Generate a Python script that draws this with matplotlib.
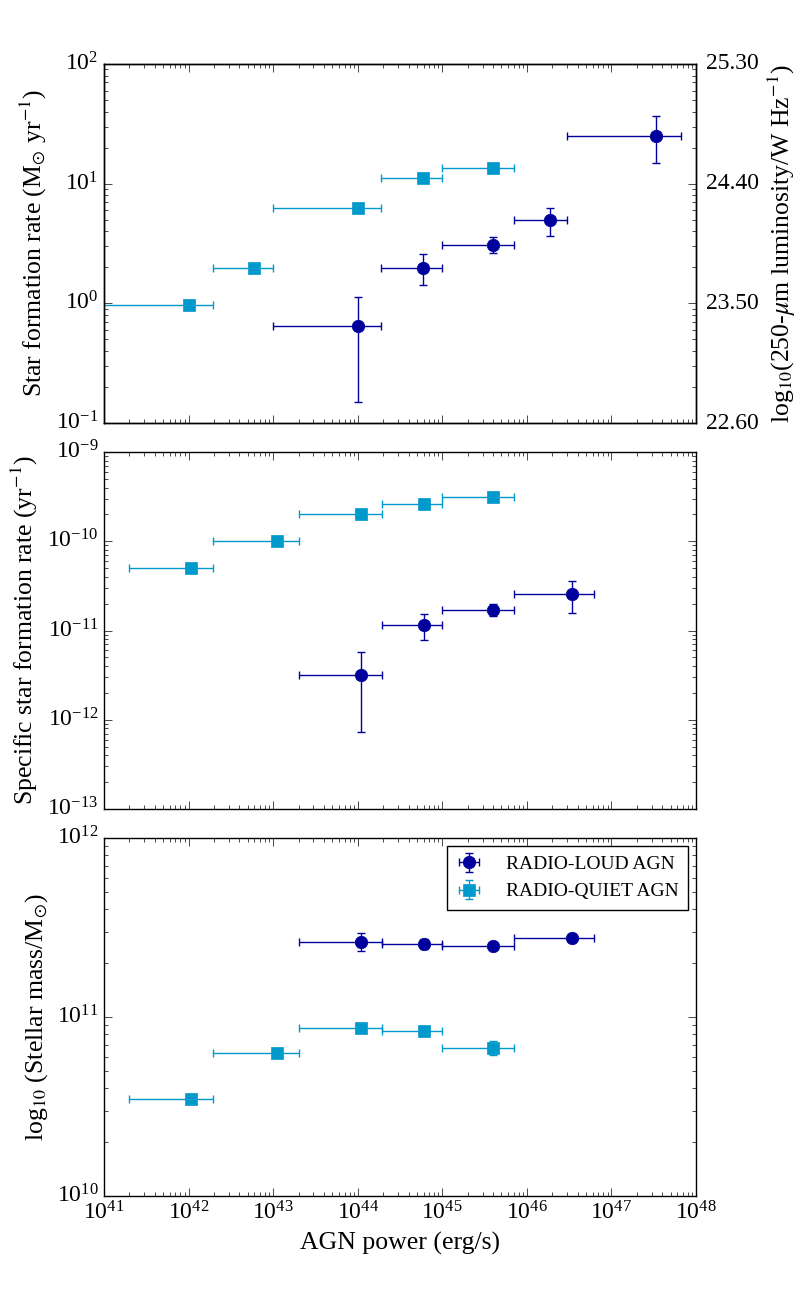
import numpy as np
import matplotlib
matplotlib.use("Agg")
import matplotlib.pyplot as plt
from matplotlib.ticker import FixedLocator, NullLocator, LogLocator

plt.style.use("classic")
plt.rcParams["font.family"] = ["Liberation Serif", "DejaVu Serif"]
plt.rcParams["mathtext.fontset"] = "stix"
plt.rcParams["figure.facecolor"] = "white"
plt.rcParams["savefig.facecolor"] = "white"

# ---------------- data ----------------
# Panel 1: star formation rate
sfr_rl_x = [1.0e44, 5.9e44, 4.0e45, 1.86e46, 3.4e47]
sfr_rl_xlo = [1.0e43, 1.86e44, 1.0e45, 7.1e45, 2.95e46]
sfr_rl_xhi = [1.86e44, 1.0e45, 7.1e45, 2.95e46, 6.6e47]
sfr_rl_y = [0.65, 1.96, 3.07, 4.98, 25.2]
sfr_rl_ylo = [0.15, 1.42, 2.65, 3.65, 15.0]
sfr_rl_yhi = [1.14, 2.58, 3.58, 6.28, 36.4]

sfr_rq_x = [1.02e42, 5.9e42, 1.0e44, 5.9e44, 4.0e45]
sfr_rq_xlo = [6.3e40, 1.95e42, 1.0e43, 1.86e44, 1.0e45]
sfr_rq_xhi = [1.95e42, 1.0e43, 1.86e44, 1.0e45, 7.1e45]
sfr_rq_y = [0.96, 1.96, 6.28, 11.2, 13.6]

# Panel 2: specific star formation rate
ssfr_rl_x = [1.1e44, 6.0e44, 4.0e45, 3.4e46]
ssfr_rl_xlo = [2.0e43, 1.95e44, 1.0e45, 7.1e45]
ssfr_rl_xhi = [1.95e44, 1.0e45, 7.1e45, 6.2e46]
ssfr_rl_y = [3.18e-12, 1.16e-11, 1.71e-11, 2.58e-11]
ssfr_rl_ylo = [7.3e-13, 7.9e-12, 1.44e-11, 1.59e-11]
ssfr_rl_yhi = [5.8e-12, 1.54e-11, 1.96e-11, 3.57e-11]

ssfr_rq_x = [1.07e42, 1.12e43, 1.1e44, 6.0e44, 4.0e45]
ssfr_rq_xlo = [1.95e41, 1.95e42, 2.0e43, 1.95e44, 1.0e45]
ssfr_rq_xhi = [1.95e42, 2.0e43, 1.95e44, 1.0e45, 7.1e45]
ssfr_rq_y = [5.05e-11, 1.0e-10, 2.03e-10, 2.64e-10, 3.15e-10]

# Panel 3: stellar mass
mass_rl_y = [2.62e11, 2.56e11, 2.49e11, 2.77e11]
mass_rl_ylo = [2.35e11, 2.40e11, 2.42e11, 2.70e11]
mass_rl_yhi = [2.93e11, 2.72e11, 2.56e11, 2.84e11]
mass_rq_y = [3.5e10, 6.33e10, 8.69e10, 8.32e10, 6.72e10]
mass_rq_ylo = [3.40e10, 6.15e10, 8.45e10, 8.10e10, 6.15e10]
mass_rq_yhi = [3.60e10, 6.50e10, 8.95e10, 8.55e10, 7.30e10]

lum_ticks = [22.60, 23.50, 24.40, 25.30]

C_RL = "#00009c"
C_RQ = "#0099cc"
LABEL_FS = 18.5


def xerr(x, lo, hi):
    x = np.asarray(x)
    return [x - np.asarray(lo), np.asarray(hi) - x]


def yerr(y, lo, hi):
    y = np.asarray(y)
    return [y - np.asarray(lo), np.asarray(hi) - y]


fig = plt.figure(figsize=(8, 13), dpi=100)
L, W = 0.13, 0.74
ax1 = fig.add_axes([L, 0.6746, W, 0.2762])
ax2 = fig.add_axes([L, 0.3777, W, 0.2746], sharex=ax1)
ax3 = fig.add_axes([L, 0.0800, W, 0.2754], sharex=ax1)

kw_rl = dict(fmt="o", color=C_RL, mec=C_RL, ms=9, capsize=3, elinewidth=1.0, capthick=1.0)
kw_rq = dict(fmt="s", color=C_RQ, mec=C_RQ, ms=9, capsize=3, elinewidth=1.0, capthick=1.0)

# panel 1
ax1.errorbar(sfr_rl_x, sfr_rl_y, xerr=xerr(sfr_rl_x, sfr_rl_xlo, sfr_rl_xhi),
             yerr=yerr(sfr_rl_y, sfr_rl_ylo, sfr_rl_yhi), **kw_rl)
ax1.errorbar(sfr_rq_x, sfr_rq_y, xerr=xerr(sfr_rq_x, sfr_rq_xlo, sfr_rq_xhi), **kw_rq)
ax1.set_xscale("log")
ax1.set_yscale("log")
ax1.set_xlim(1e41, 1e48)
ax1.set_ylim(0.1, 100)
ax1.set_ylabel(r"Star formation rate (M$_{\odot}$ yr$^{-1}$)", fontsize=LABEL_FS)

# right axis of panel 1
axr = ax1.twinx()
axr.set_ylim(lum_ticks[0], lum_ticks[-1])
axr.yaxis.set_major_locator(FixedLocator(lum_ticks))
axr.yaxis.set_minor_locator(NullLocator())
axr.set_yticklabels(["%.2f" % v for v in lum_ticks])
axr.tick_params(axis="y", which="both", length=0, labelsize=17, pad=7)
axr.set_ylabel(r"log$_{10}$(250-$\mu$m luminosity/W Hz$^{-1}$)", fontsize=LABEL_FS)

# panel 2
ax2.errorbar(ssfr_rl_x, ssfr_rl_y, xerr=xerr(ssfr_rl_x, ssfr_rl_xlo, ssfr_rl_xhi),
             yerr=yerr(ssfr_rl_y, ssfr_rl_ylo, ssfr_rl_yhi), **kw_rl)
ax2.errorbar(ssfr_rq_x, ssfr_rq_y, xerr=xerr(ssfr_rq_x, ssfr_rq_xlo, ssfr_rq_xhi), **kw_rq)
ax2.set_yscale("log")
ax2.set_ylim(1e-13, 1e-9)
ax2.set_ylabel(r"Specific star formation rate (yr$^{-1}$)", fontsize=LABEL_FS)

# panel 3
ax3.errorbar(ssfr_rl_x, mass_rl_y, xerr=xerr(ssfr_rl_x, ssfr_rl_xlo, ssfr_rl_xhi),
             yerr=yerr(mass_rl_y, mass_rl_ylo, mass_rl_yhi), label="RADIO-LOUD AGN", **kw_rl)
ax3.errorbar(ssfr_rq_x, mass_rq_y, xerr=xerr(ssfr_rq_x, ssfr_rq_xlo, ssfr_rq_xhi),
             yerr=yerr(mass_rq_y, mass_rq_ylo, mass_rq_yhi), label="RADIO-QUIET AGN", **kw_rq)
ax3.set_yscale("log")
ax3.set_ylim(1e10, 1e12)
ax3.set_ylabel(r"log$_{10}$ (Stellar mass/M$_{\odot}$)", fontsize=LABEL_FS)
ax3.set_xlabel("AGN power (erg/s)", fontsize=LABEL_FS)
leg = ax3.legend(loc="upper right", numpoints=1, fontsize=14, frameon=True,
                 fancybox=False, handlelength=1.2, handletextpad=1.3,
                 borderpad=0.5, labelspacing=0.5, borderaxespad=0.4)
leg.get_frame().set_edgecolor("black")

for ax in (ax1, ax2, ax3):
    ax.xaxis.set_major_locator(LogLocator(base=10, numticks=20))
    ax.tick_params(axis="both", which="both", direction="in", top=True, right=True,
                   labelsize=17)
    ax.tick_params(which="major", length=6)
    ax.tick_params(which="minor", length=3)
for ax in (ax1, ax2):
    plt.setp(ax.get_xticklabels(), visible=False)

fig.savefig("out.png", dpi=100)
